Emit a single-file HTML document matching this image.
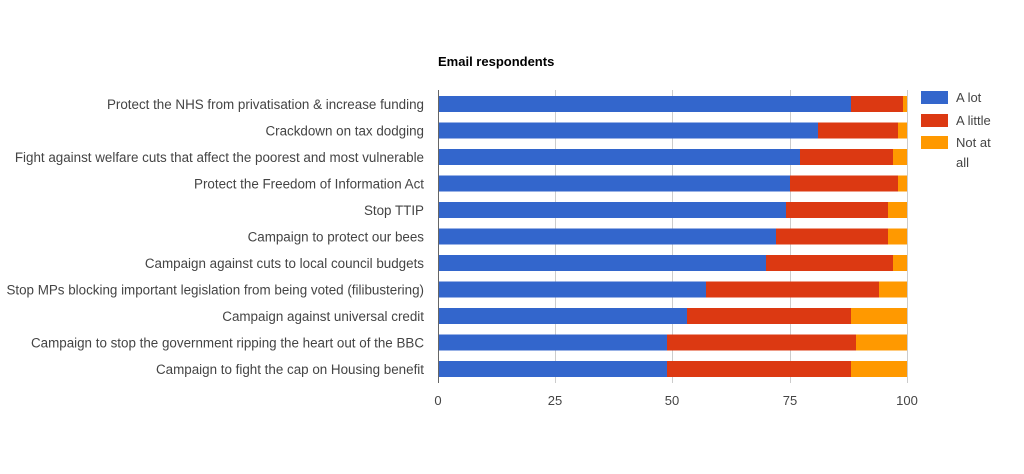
<!DOCTYPE html>
<html><head><meta charset="utf-8"><style>
body{margin:0;background:#fff;}
svg{display:block;font-family:"Liberation Sans",Arial,sans-serif;}
</style></head><body>
<svg width="1024" height="474" xmlns="http://www.w3.org/2000/svg">
<text x="438" y="66" font-size="13" font-weight="bold" fill="#000">Email respondents</text>
<g stroke="#ccc" stroke-width="1">
<line x1="555.5" y1="90" x2="555.5" y2="383"/>
<line x1="672.5" y1="90" x2="672.5" y2="383"/>
<line x1="790.5" y1="90" x2="790.5" y2="383"/>
<line x1="907.5" y1="90" x2="907.5" y2="383"/>
</g>
<g>
<rect x="438" y="96" width="413" height="16" fill="#3366cc"/><rect x="851" y="96" width="52" height="16" fill="#dc3912"/><rect x="903" y="96" width="4" height="16" fill="#ff9900"/>
<rect x="438" y="122.5" width="380" height="16" fill="#3366cc"/><rect x="818" y="122.5" width="80" height="16" fill="#dc3912"/><rect x="898" y="122.5" width="9" height="16" fill="#ff9900"/>
<rect x="438" y="149" width="362" height="16" fill="#3366cc"/><rect x="800" y="149" width="93" height="16" fill="#dc3912"/><rect x="893" y="149" width="14" height="16" fill="#ff9900"/>
<rect x="438" y="175.5" width="352" height="16" fill="#3366cc"/><rect x="790" y="175.5" width="108" height="16" fill="#dc3912"/><rect x="898" y="175.5" width="9" height="16" fill="#ff9900"/>
<rect x="438" y="202" width="348" height="16" fill="#3366cc"/><rect x="786" y="202" width="102" height="16" fill="#dc3912"/><rect x="888" y="202" width="19" height="16" fill="#ff9900"/>
<rect x="438" y="228.5" width="338" height="16" fill="#3366cc"/><rect x="776" y="228.5" width="112" height="16" fill="#dc3912"/><rect x="888" y="228.5" width="19" height="16" fill="#ff9900"/>
<rect x="438" y="255" width="328" height="16" fill="#3366cc"/><rect x="766" y="255" width="127" height="16" fill="#dc3912"/><rect x="893" y="255" width="14" height="16" fill="#ff9900"/>
<rect x="438" y="281.5" width="268" height="16" fill="#3366cc"/><rect x="706" y="281.5" width="173" height="16" fill="#dc3912"/><rect x="879" y="281.5" width="28" height="16" fill="#ff9900"/>
<rect x="438" y="308" width="249" height="16" fill="#3366cc"/><rect x="687" y="308" width="164" height="16" fill="#dc3912"/><rect x="851" y="308" width="56" height="16" fill="#ff9900"/>
<rect x="438" y="334.5" width="229" height="16" fill="#3366cc"/><rect x="667" y="334.5" width="189" height="16" fill="#dc3912"/><rect x="856" y="334.5" width="51" height="16" fill="#ff9900"/>
<rect x="438" y="361" width="229" height="16" fill="#3366cc"/><rect x="667" y="361" width="184" height="16" fill="#dc3912"/><rect x="851" y="361" width="56" height="16" fill="#ff9900"/>
</g>
<line x1="438.5" y1="90" x2="438.5" y2="383" stroke="#666" stroke-width="1"/>
<g font-size="13" fill="#444" text-anchor="middle">
<text x="438" y="405">0</text><text x="555" y="405">25</text><text x="672" y="405">50</text><text x="790" y="405">75</text><text x="907" y="405">100</text>
</g>
<g font-size="13" fill="#444">
<rect x="921" y="91" width="27" height="13" fill="#3366cc"/><text x="956" y="102">A lot</text>
<rect x="921" y="114" width="27" height="13" fill="#dc3912"/><text x="956" y="125">A little</text>
<rect x="921" y="136" width="27" height="13" fill="#ff9900"/><text x="956" y="147">Not at</text><text x="956" y="167">all</text>
</g>
<g font-size="13.4" fill="#444" text-anchor="end">
<text x="424" y="109">Protect the NHS from privatisation &amp; increase funding</text>
<text x="424" y="135.5">Crackdown on tax dodging</text>
<text x="424" y="162">Fight against welfare cuts that affect the poorest and most vulnerable</text>
<text x="424" y="188.5">Protect the Freedom of Information Act</text>
<text x="424" y="215">Stop TTIP</text>
<text x="424" y="241.5">Campaign to protect our bees</text>
<text x="424" y="268">Campaign against cuts to local council budgets</text>
<text x="424" y="294.5">Stop MPs blocking important legislation from being voted (filibustering)</text>
<text x="424" y="321">Campaign against universal credit</text>
<text x="424" y="347.5">Campaign to stop the government ripping the heart out of the BBC</text>
<text x="424" y="374">Campaign to fight the cap on Housing benefit</text>
</g>
</svg>
</body></html>
